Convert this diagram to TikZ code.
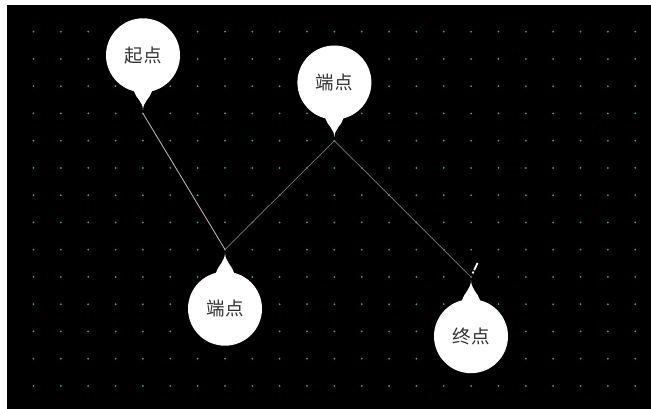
\documentclass[tikz,border=0pt]{standalone}
\usepackage{fontspec}
\newfontfamily\cjk{Noto Sans CJK SC}
\definecolor{PFrame}{HTML}{FFFFFF}
\definecolor{PBack}{HTML}{000000}
\definecolor{PDot}{HTML}{12B4BE}
\definecolor{PLine}{HTML}{7A7A7A}
\definecolor{PLineLight}{HTML}{B0B0B0}
\definecolor{PText}{HTML}{333333}
\usetikzlibrary{positioning}

\begin{document}
\begin{tikzpicture}[x=1pt,y=-1pt,
    balloon/.style={circle,fill=white,minimum size=74pt,inner sep=0pt,
                    text=PText,font=\cjk\fontsize{18.5}{18.5}\selectfont},
    segment/.style={draw=PLine,line width=0.7pt},
    tailfill/.style={fill=white}]
  % frame and canvas
  \useasboundingbox (0,0) rectangle (651,409);
  \fill[PFrame] (0,0) rectangle (651,409);
  \fill[PBack] (7,5) rectangle (651,409);
  % dot grid
  \foreach \i in {0,...,22}
    \foreach \j in {0,...,13}
      \fill[PDot] (33.5+27.35*\i,31.7+27.25*\j) circle (1pt);
  % path points
  \coordinate (p1) at (143,113.5);
  \coordinate (p2) at (225,249.5);
  \coordinate (p3) at (334.4,140.7);
  \coordinate (p4) at (471,277);
  \coordinate (cur) at (478,262);
  % segments
  \draw[segment,draw=PLineLight,line width=0.9pt] (p1) -- (p2);
  \draw[segment] (p2) -- (p3);
  \draw[segment] (p3) -- (p4);
  \draw[white,line width=1.8pt,dash pattern=on 2pt off 1.5pt on 6pt off 0pt,
        shorten <=4pt] (p4) -- (cur);
  % balloons
  \node[balloon,above=21pt of p1] (start) {起点};
  \node[balloon,above=21pt of p3] (top) {端点};
  \node[balloon,below=22pt of p2] (bend) {端点};
  \node[balloon,below=22pt of p4] (finish) {终点};
  % tails
  \foreach \b/\p in {start/p1,top/p3}
    \fill[tailfill] (\b.-104) .. controls +(2,7) and +(0,-9) .. ([yshift=3pt]\p)
      .. controls +(0,-9) and +(-2,7) .. (\b.-76) -- (\b.center) -- cycle;
  \foreach \b/\p in {bend/p2,finish/p4}
    \fill[tailfill] (\b.104) .. controls +(2,-7) and +(0,9) .. ([yshift=-3pt]\p)
      .. controls +(0,9) and +(-2,-7) .. (\b.76) -- (\b.center) -- cycle;
\end{tikzpicture}
\end{document}
